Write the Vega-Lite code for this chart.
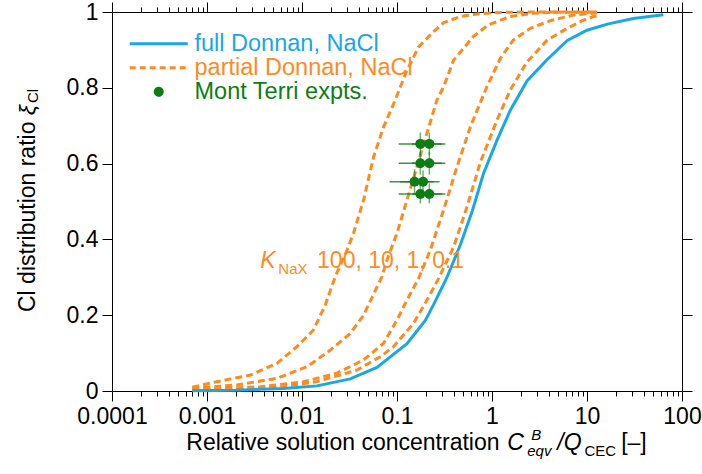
{
  "$schema": "https://vega.github.io/schema/vega-lite/v6.json",
  "width": 570,
  "height": 379,
  "autosize": {"type": "none"},
  "padding": {"left": 112, "top": 12, "right": 20, "bottom": 83},
  "config": {
    "view": {"stroke": null},
    "font": "Liberation Sans",
    "axis": {"domainColor": "#000", "tickColor": "#000", "labelColor": "#000", "labelFont": "Liberation Sans", "labelFontSize": 23, "grid": false, "domainWidth": 1, "tickWidth": 1}
  },
  "datasets": {
    "curves": [
      {"series": "full Donnan, NaCl", "K": "none", "x": 0.0007, "xi": 0.0007},
      {"series": "full Donnan, NaCl", "K": "none", "x": 0.002, "xi": 0.002},
      {"series": "full Donnan, NaCl", "K": "none", "x": 0.0064, "xi": 0.0064},
      {"series": "full Donnan, NaCl", "K": "none", "x": 0.0144, "xi": 0.0135},
      {"series": "full Donnan, NaCl", "K": "none", "x": 0.0322, "xi": 0.032},
      {"series": "full Donnan, NaCl", "K": "none", "x": 0.0615, "xi": 0.062},
      {"series": "full Donnan, NaCl", "K": "none", "x": 0.1273, "xi": 0.125},
      {"series": "full Donnan, NaCl", "K": "none", "x": 0.1986, "xi": 0.186},
      {"series": "full Donnan, NaCl", "K": "none", "x": 0.2427, "xi": 0.228},
      {"series": "full Donnan, NaCl", "K": "none", "x": 0.3357, "xi": 0.3},
      {"series": "full Donnan, NaCl", "K": "none", "x": 0.4634, "xi": 0.385},
      {"series": "full Donnan, NaCl", "K": "none", "x": 0.62, "xi": 0.475},
      {"series": "full Donnan, NaCl", "K": "none", "x": 0.8166, "xi": 0.575},
      {"series": "full Donnan, NaCl", "K": "none", "x": 1.13, "xi": 0.662},
      {"series": "full Donnan, NaCl", "K": "none", "x": 1.56, "xi": 0.741},
      {"series": "full Donnan, NaCl", "K": "none", "x": 2.336, "xi": 0.818},
      {"series": "full Donnan, NaCl", "K": "none", "x": 3.79, "xi": 0.874},
      {"series": "full Donnan, NaCl", "K": "none", "x": 6.21, "xi": 0.925},
      {"series": "full Donnan, NaCl", "K": "none", "x": 10, "xi": 0.952},
      {"series": "full Donnan, NaCl", "K": "none", "x": 16.4, "xi": 0.968},
      {"series": "full Donnan, NaCl", "K": "none", "x": 30.7, "xi": 0.983},
      {"series": "full Donnan, NaCl", "K": "none", "x": 63.5, "xi": 0.993},

      {"series": "partial Donnan, NaCl", "K": "100", "x": 0.0007, "xi": 0.01},
      {"series": "partial Donnan, NaCl", "K": "100", "x": 0.00127, "xi": 0.0245},
      {"series": "partial Donnan, NaCl", "K": "100", "x": 0.00286, "xi": 0.042},
      {"series": "partial Donnan, NaCl", "K": "100", "x": 0.00546, "xi": 0.073},
      {"series": "partial Donnan, NaCl", "K": "100", "x": 0.00885, "xi": 0.117},
      {"series": "partial Donnan, NaCl", "K": "100", "x": 0.0132, "xi": 0.161},
      {"series": "partial Donnan, NaCl", "K": "100", "x": 0.0176, "xi": 0.227},
      {"series": "partial Donnan, NaCl", "K": "100", "x": 0.0224, "xi": 0.302},
      {"series": "partial Donnan, NaCl", "K": "100", "x": 0.0298, "xi": 0.372},
      {"series": "partial Donnan, NaCl", "K": "100", "x": 0.0349, "xi": 0.417},
      {"series": "partial Donnan, NaCl", "K": "100", "x": 0.0445, "xi": 0.504},
      {"series": "partial Donnan, NaCl", "K": "100", "x": 0.0568, "xi": 0.618},
      {"series": "partial Donnan, NaCl", "K": "100", "x": 0.0723, "xi": 0.697},
      {"series": "partial Donnan, NaCl", "K": "100", "x": 0.0959, "xi": 0.768},
      {"series": "partial Donnan, NaCl", "K": "100", "x": 0.1253, "xi": 0.842},
      {"series": "partial Donnan, NaCl", "K": "100", "x": 0.1686, "xi": 0.908},
      {"series": "partial Donnan, NaCl", "K": "100", "x": 0.2427, "xi": 0.948},
      {"series": "partial Donnan, NaCl", "K": "100", "x": 0.31, "xi": 0.972},
      {"series": "partial Donnan, NaCl", "K": "100", "x": 0.463, "xi": 0.988},
      {"series": "partial Donnan, NaCl", "K": "100", "x": 0.7, "xi": 0.995},
      {"series": "partial Donnan, NaCl", "K": "100", "x": 1.22, "xi": 0.999},
      {"series": "partial Donnan, NaCl", "K": "100", "x": 2.72, "xi": 1.0},
      {"series": "partial Donnan, NaCl", "K": "100", "x": 12.8, "xi": 1.0},

      {"series": "partial Donnan, NaCl", "K": "10", "x": 0.0007, "xi": 0.007},
      {"series": "partial Donnan, NaCl", "K": "10", "x": 0.00207, "xi": 0.016},
      {"series": "partial Donnan, NaCl", "K": "10", "x": 0.00546, "xi": 0.0335},
      {"series": "partial Donnan, NaCl", "K": "10", "x": 0.0113, "xi": 0.064},
      {"series": "partial Donnan, NaCl", "K": "10", "x": 0.0199, "xi": 0.108},
      {"series": "partial Donnan, NaCl", "K": "10", "x": 0.0322, "xi": 0.152},
      {"series": "partial Donnan, NaCl", "K": "10", "x": 0.0445, "xi": 0.2},
      {"series": "partial Donnan, NaCl", "K": "10", "x": 0.0695, "xi": 0.302},
      {"series": "partial Donnan, NaCl", "K": "10", "x": 0.0785, "xi": 0.346},
      {"series": "partial Donnan, NaCl", "K": "10", "x": 0.1, "xi": 0.416},
      {"series": "partial Donnan, NaCl", "K": "10", "x": 0.1273, "xi": 0.504},
      {"series": "partial Donnan, NaCl", "K": "10", "x": 0.1625, "xi": 0.592},
      {"series": "partial Donnan, NaCl", "K": "10", "x": 0.207, "xi": 0.681},
      {"series": "partial Donnan, NaCl", "K": "10", "x": 0.2636, "xi": 0.768},
      {"series": "partial Donnan, NaCl", "K": "10", "x": 0.3097, "xi": 0.803},
      {"series": "partial Donnan, NaCl", "K": "10", "x": 0.3945, "xi": 0.873},
      {"series": "partial Donnan, NaCl", "K": "10", "x": 0.635, "xi": 0.935},
      {"series": "partial Donnan, NaCl", "K": "10", "x": 0.914, "xi": 0.966},
      {"series": "partial Donnan, NaCl", "K": "10", "x": 1.56, "xi": 0.988},
      {"series": "partial Donnan, NaCl", "K": "10", "x": 2.72, "xi": 0.9966},
      {"series": "partial Donnan, NaCl", "K": "10", "x": 4.42, "xi": 0.999},
      {"series": "partial Donnan, NaCl", "K": "10", "x": 12.8, "xi": 1.0},

      {"series": "partial Donnan, NaCl", "K": "1", "x": 0.0007, "xi": 0.0045},
      {"series": "partial Donnan, NaCl", "K": "1", "x": 0.00127, "xi": 0.007},
      {"series": "partial Donnan, NaCl", "K": "1", "x": 0.00364, "xi": 0.011},
      {"series": "partial Donnan, NaCl", "K": "1", "x": 0.0104, "xi": 0.0245},
      {"series": "partial Donnan, NaCl", "K": "1", "x": 0.0233, "xi": 0.047},
      {"series": "partial Donnan, NaCl", "K": "1", "x": 0.0445, "xi": 0.082},
      {"series": "partial Donnan, NaCl", "K": "1", "x": 0.0723, "xi": 0.126},
      {"series": "partial Donnan, NaCl", "K": "1", "x": 0.1, "xi": 0.187},
      {"series": "partial Donnan, NaCl", "K": "1", "x": 0.1273, "xi": 0.24},
      {"series": "partial Donnan, NaCl", "K": "1", "x": 0.1686, "xi": 0.297},
      {"series": "partial Donnan, NaCl", "K": "1", "x": 0.2244, "xi": 0.372},
      {"series": "partial Donnan, NaCl", "K": "1", "x": 0.3097, "xi": 0.478},
      {"series": "partial Donnan, NaCl", "K": "1", "x": 0.4285, "xi": 0.592},
      {"series": "partial Donnan, NaCl", "K": "1", "x": 0.5916, "xi": 0.697},
      {"series": "partial Donnan, NaCl", "K": "1", "x": 0.885, "xi": 0.803},
      {"series": "partial Donnan, NaCl", "K": "1", "x": 1.222, "xi": 0.877},
      {"series": "partial Donnan, NaCl", "K": "1", "x": 1.675, "xi": 0.926},
      {"series": "partial Donnan, NaCl", "K": "1", "x": 2.53, "xi": 0.957},
      {"series": "partial Donnan, NaCl", "K": "1", "x": 4.11, "xi": 0.977},
      {"series": "partial Donnan, NaCl", "K": "1", "x": 7.18, "xi": 0.992},
      {"series": "partial Donnan, NaCl", "K": "1", "x": 12.8, "xi": 0.998},

      {"series": "partial Donnan, NaCl", "K": "0.1", "x": 0.0007, "xi": 0.0026},
      {"series": "partial Donnan, NaCl", "K": "0.1", "x": 0.0019, "xi": 0.004},
      {"series": "partial Donnan, NaCl", "K": "0.1", "x": 0.0064, "xi": 0.011},
      {"series": "partial Donnan, NaCl", "K": "0.1", "x": 0.0144, "xi": 0.025},
      {"series": "partial Donnan, NaCl", "K": "0.1", "x": 0.0379, "xi": 0.055},
      {"series": "partial Donnan, NaCl", "K": "0.1", "x": 0.0667, "xi": 0.0905},
      {"series": "partial Donnan, NaCl", "K": "0.1", "x": 0.092, "xi": 0.117},
      {"series": "partial Donnan, NaCl", "K": "0.1", "x": 0.1496, "xi": 0.179},
      {"series": "partial Donnan, NaCl", "K": "0.1", "x": 0.207, "xi": 0.24},
      {"series": "partial Donnan, NaCl", "K": "0.1", "x": 0.274, "xi": 0.297},
      {"series": "partial Donnan, NaCl", "K": "0.1", "x": 0.3945, "xi": 0.38},
      {"series": "partial Donnan, NaCl", "K": "0.1", "x": 0.5458, "xi": 0.486},
      {"series": "partial Donnan, NaCl", "K": "0.1", "x": 0.753, "xi": 0.603},
      {"series": "partial Donnan, NaCl", "K": "0.1", "x": 1.13, "xi": 0.715},
      {"series": "partial Donnan, NaCl", "K": "0.1", "x": 1.56, "xi": 0.795},
      {"series": "partial Donnan, NaCl", "K": "0.1", "x": 2.336, "xi": 0.868},
      {"series": "partial Donnan, NaCl", "K": "0.1", "x": 3.82, "xi": 0.926},
      {"series": "partial Donnan, NaCl", "K": "0.1", "x": 6.21, "xi": 0.957},
      {"series": "partial Donnan, NaCl", "K": "0.1", "x": 8.91, "xi": 0.977},
      {"series": "partial Donnan, NaCl", "K": "0.1", "x": 11.64, "xi": 0.988},
      {"series": "partial Donnan, NaCl", "K": "0.1", "x": 12.8, "xi": 0.99}
    ],
    "expts": [
      {"series": "Mont Terri expts.", "x": 0.176, "xi": 0.652, "xlo": 0.104, "xhi": 0.296, "ylo": 0.622, "yhi": 0.682},
      {"series": "Mont Terri expts.", "x": 0.219, "xi": 0.652, "xlo": 0.144, "xhi": 0.322, "ylo": 0.622, "yhi": 0.682},
      {"series": "Mont Terri expts.", "x": 0.176, "xi": 0.601, "xlo": 0.104, "xhi": 0.296, "ylo": 0.571, "yhi": 0.631},
      {"series": "Mont Terri expts.", "x": 0.219, "xi": 0.601, "xlo": 0.144, "xhi": 0.322, "ylo": 0.571, "yhi": 0.631},
      {"series": "Mont Terri expts.", "x": 0.153, "xi": 0.552, "xlo": 0.0836, "xhi": 0.2427, "ylo": 0.52, "yhi": 0.585},
      {"series": "Mont Terri expts.", "x": 0.188, "xi": 0.552, "xlo": 0.108, "xhi": 0.2805, "ylo": 0.522, "yhi": 0.582},
      {"series": "Mont Terri expts.", "x": 0.176, "xi": 0.52, "xlo": 0.104, "xhi": 0.296, "ylo": 0.495, "yhi": 0.548},
      {"series": "Mont Terri expts.", "x": 0.219, "xi": 0.52, "xlo": 0.144, "xhi": 0.322, "ylo": 0.495, "yhi": 0.548}
    ]
  },
  "encoding": {
    "x": {"field": "x", "type": "quantitative", "scale": {"type": "log", "domain": [0.0001, 100], "nice": false}, "axis": null},
    "y": {"field": "xi", "type": "quantitative", "scale": {"domain": [0, 1], "nice": false, "zero": false}, "axis": null}
  },
  "resolve": {"axis": {"x": "independent", "y": "independent"}},
  "layer": [
    {
      "data": {"name": "curves"},
      "transform": [{"filter": "datum.series === 'partial Donnan, NaCl'"}],
      "mark": {"type": "line", "strokeWidth": 3, "strokeDash": [7, 4]},
      "encoding": {
        "x": {"field": "x", "type": "quantitative", "scale": {"type": "log", "domain": [0.0001, 100], "nice": false},
          "axis": {"orient": "top", "labels": false, "title": null,
            "values": [0.0001,0.0002,0.0003,0.0004,0.0005,0.0006,0.0007,0.0008,0.0009,0.001,0.002,0.003,0.004,0.005,0.006,0.007,0.008,0.009,0.01,0.02,0.03,0.04,0.05,0.06,0.07,0.08,0.09,0.1,0.2,0.3,0.4,0.5,0.6,0.7,0.8,0.9,1,2,3,4,5,6,7,8,9,10,20,30,40,50,60,70,80,90,100],
            "tickSize": {"condition": {"test": "abs(log(datum.value)/LN10 - round(log(datum.value)/LN10)) < 0.001", "value": 10}, "value": 5}}},
        "y": {"field": "xi", "type": "quantitative", "scale": {"domain": [0, 1], "nice": false, "zero": false},
          "axis": {"orient": "right", "labels": false, "title": null, "values": [0, 0.2, 0.4, 0.6, 0.8, 1], "tickSize": 10}},
        "color": {"field": "series", "type": "nominal", "scale": {"domain": ["full Donnan, NaCl", "partial Donnan, NaCl", "Mont Terri expts."], "range": ["#19A7E5", "#FF8A1F", "#0B7E13"]}},
        "detail": {"field": "K"}
      }
    },
    {
      "data": {"name": "curves"},
      "transform": [{"filter": "datum.series === 'full Donnan, NaCl'"}],
      "mark": {"type": "line", "strokeWidth": 3},
      "encoding": {
        "x": {"field": "x", "type": "quantitative", "scale": {"type": "log", "domain": [0.0001, 100], "nice": false},
          "axis": {"orient": "bottom", "title": null, "format": "~g", "labelFlush": false, "labelOverlap": false, "labelPadding": 4,
            "values": [0.0001,0.0002,0.0003,0.0004,0.0005,0.0006,0.0007,0.0008,0.0009,0.001,0.002,0.003,0.004,0.005,0.006,0.007,0.008,0.009,0.01,0.02,0.03,0.04,0.05,0.06,0.07,0.08,0.09,0.1,0.2,0.3,0.4,0.5,0.6,0.7,0.8,0.9,1,2,3,4,5,6,7,8,9,10,20,30,40,50,60,70,80,90,100],
            "labelExpr": "abs(log(datum.value)/LN10 - round(log(datum.value)/LN10)) < 0.001 ? datum.label : ''",
            "tickSize": {"condition": {"test": "abs(log(datum.value)/LN10 - round(log(datum.value)/LN10)) < 0.001", "value": 10}, "value": 5}}},
        "y": {"field": "xi", "type": "quantitative", "scale": {"domain": [0, 1], "nice": false, "zero": false},
          "axis": {"orient": "left", "title": null, "format": "~g", "values": [0, 0.2, 0.4, 0.6, 0.8, 1], "tickSize": 10, "labelPadding": 4}},
        "color": {"field": "series", "type": "nominal",
          "scale": {"domain": ["full Donnan, NaCl", "partial Donnan, NaCl", "Mont Terri expts."], "range": ["#19A7E5", "#FF8A1F", "#0B7E13"]},
          "legend": {"orient": "none", "legendX": 35, "legendY": 20, "title": null, "labelFontSize": 23.5, "labelFont": "Liberation Sans",
            "symbolSize": 49, "symbolStrokeWidth": 3, "symbolType": "M-8.3,0H8.3", "labelOffset": 24, "padding": 0, "rowPadding": -1, "labelLimit": 400,
            "encode": {
              "symbols": {"update": {
                "shape": {"signal": "datum.value === 'Mont Terri expts.' ? 'circle' : 'M-8.3,0H8.3'"},
                "strokeDash": {"signal": "datum.value === 'partial Donnan, NaCl' ? [6, 4] : [1, 0]"},
                "stroke": {"scale": "color", "field": "value"},
                "fill": {"scale": "color", "field": "value"},
                "opacity": {"value": 1}
              }},
              "labels": {"update": {"fill": {"scale": "color", "field": "value"}}}
            }}}
      }
    },
    {
      "data": {"name": "expts"},
      "mark": {"type": "rule", "strokeWidth": 1.5, "opacity": 0.8},
      "encoding": {
        "x": {"field": "xlo", "type": "quantitative", "scale": {"type": "log", "domain": [0.0001, 100], "nice": false}, "axis": null},
        "x2": {"field": "xhi"},
        "color": {"field": "series", "type": "nominal"}
      }
    },
    {
      "data": {"name": "expts"},
      "mark": {"type": "rule", "strokeWidth": 1.5, "opacity": 0.6},
      "encoding": {
        "y": {"field": "ylo", "type": "quantitative", "scale": {"domain": [0, 1], "nice": false, "zero": false}, "axis": null},
        "y2": {"field": "yhi"},
        "color": {"field": "series", "type": "nominal"}
      }
    },
    {
      "data": {"name": "expts"},
      "mark": {"type": "point", "filled": true, "size": 100, "opacity": 1},
      "encoding": {
        "color": {"field": "series", "type": "nominal"}
      }
    },
    {
      "data": {"values": [
        {"label": "Relative solution concentration", "x": 0.000605, "xi": -0.1557},
        {"label": "[–]", "x": 22.9, "xi": -0.1557}
      ]},
      "mark": {"type": "text", "align": "left", "baseline": "alphabetic", "fontSize": 23, "color": "#000", "font": "Liberation Sans"},
      "encoding": {"text": {"field": "label"}}
    },
    {
      "data": {"values": [
        {"label": "C", "x": 1.449, "xi": -0.1557},
        {"label": "/Q", "x": 4.87, "xi": -0.1557}
      ]},
      "mark": {"type": "text", "align": "left", "baseline": "alphabetic", "fontSize": 23, "fontStyle": "italic", "color": "#000", "font": "Liberation Sans"},
      "encoding": {"text": {"field": "label"}}
    },
    {
      "data": {"values": [
        {"label": "B", "x": 2.59, "xi": -0.1293},
        {"label": "eqv", "x": 2.35, "xi": -0.1715}
      ]},
      "mark": {"type": "text", "align": "left", "baseline": "alphabetic", "fontSize": 15, "fontStyle": "italic", "color": "#000", "font": "Liberation Sans"},
      "encoding": {"text": {"field": "label"}}
    },
    {
      "data": {"values": [
        {"label": "CEC", "x": 9.4, "xi": -0.1715}
      ]},
      "mark": {"type": "text", "align": "left", "baseline": "alphabetic", "fontSize": 15, "color": "#000", "font": "Liberation Sans"},
      "encoding": {"text": {"field": "label"}}
    },
    {
      "data": {"values": [
        {"label": "Cl distribution ratio", "x": 0.00001315, "xi": 0.2084}
      ]},
      "mark": {"type": "text", "align": "left", "baseline": "middle", "angle": 270, "fontSize": 23, "color": "#000", "font": "Liberation Sans"},
      "encoding": {"text": {"field": "label"}}
    },
    {
      "data": {"values": [
        {"label": "ξ", "x": 0.00001315, "xi": 0.7277}
      ]},
      "mark": {"type": "text", "align": "left", "baseline": "middle", "angle": 270, "fontSize": 23, "fontStyle": "italic", "color": "#000", "font": "Liberation Sans"},
      "encoding": {"text": {"field": "label"}}
    },
    {
      "data": {"values": [
        {"label": "Cl", "x": 0.00001485, "xi": 0.7599}
      ]},
      "mark": {"type": "text", "align": "left", "baseline": "middle", "angle": 270, "fontSize": 15, "color": "#000", "font": "Liberation Sans"},
      "encoding": {"text": {"field": "label"}}
    },
    {
      "data": {"values": [
        {"label": "K", "x": 0.00364, "xi": 0.324}
      ]},
      "mark": {"type": "text", "align": "left", "baseline": "alphabetic", "fontSize": 23, "fontStyle": "italic", "color": "#FF8A1F", "font": "Liberation Sans"},
      "encoding": {"text": {"field": "label"}}
    },
    {
      "data": {"values": [
        {"label": "NaX", "x": 0.00564, "xi": 0.309}
      ]},
      "mark": {"type": "text", "align": "left", "baseline": "alphabetic", "fontSize": 15, "color": "#FF8A1F", "font": "Liberation Sans"},
      "encoding": {"text": {"field": "label"}}
    },
    {
      "data": {"values": [
        {"label": "100, 10, 1, 0.1", "x": 0.0144, "xi": 0.324}
      ]},
      "mark": {"type": "text", "align": "left", "baseline": "alphabetic", "fontSize": 23, "color": "#FF8A1F", "font": "Liberation Sans"},
      "encoding": {"text": {"field": "label"}}
    }
  ]
}
